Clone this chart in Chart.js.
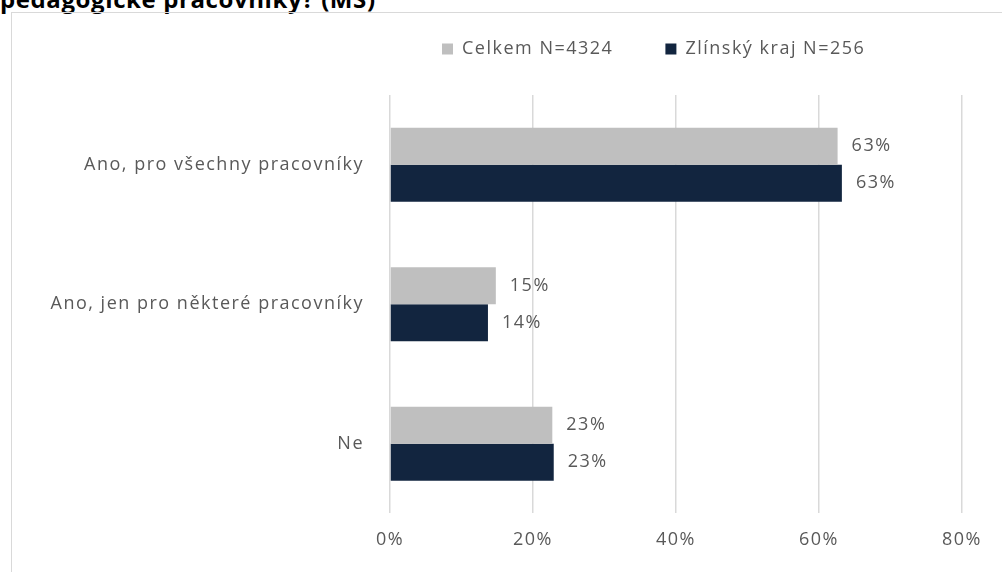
<!DOCTYPE html>
<html><head><meta charset="utf-8">
<script src="https://cdn.jsdelivr.net/npm/chart.js@4"></script>
<style>
html,body{margin:0;padding:0;background:#fff;width:1002px;height:572px;overflow:hidden;position:relative;}
#title{position:absolute;left:0;top:-13px;font:bold 24px/24px "Open Sans",sans-serif;letter-spacing:0.6px;color:#000;white-space:nowrap;}
#frame{position:absolute;left:11px;top:12px;width:1000px;height:600px;border-left:1px solid #d9d9d9;border-top:1px solid #d9d9d9;}
#wrap{position:absolute;left:0;top:0;width:1002px;height:572px;}
</style></head>
<body>
<div id="title">pedagogické pracovníky? (MŠ)</div>
<div id="frame"></div>
<div id="wrap"><canvas id="c" width="1002" height="572"></canvas></div>
<script>
const categories = ["Ano, pro všechny pracovníky", "Ano, jen pro některé pracovníky", "Ne"];
const seriesNames = ["Celkem N=4324", "Zlínský kraj N=256"];
const celkem = [62.6, 14.8, 22.7];
const zlinsky = [63.2, 13.7, 22.9];
const xTicks = [0, 20, 40, 60, 80];
const colors = ["#bfbfbf", "#12253f"];
const txt = "#595959";
const FONT = "'Open Sans', sans-serif";
const FS = 18;
const LS = '1.5px';

const spacingPlugin = {
  id: 'spacing',
  beforeUpdate(chart) { chart.ctx.letterSpacing = LS; },
  beforeLayout(chart) { chart.ctx.letterSpacing = LS; },
  beforeDraw(chart) { chart.ctx.letterSpacing = LS; }
};

const labelPlugin = {
  id: 'vlabels',
  afterDatasetsDraw(chart) {
    const ctx = chart.ctx;
    ctx.save();
    ctx.letterSpacing = LS;
    ctx.font = FS + "px " + FONT;
    ctx.fillStyle = txt;
    ctx.textAlign = 'left';
    ctx.textBaseline = 'middle';
    chart.data.datasets.forEach((ds, i) => {
      chart.getDatasetMeta(i).data.forEach((el, j) => {
        ctx.fillText(Math.round(ds.data[j]) + '%', el.x + 14, el.y);
      });
    });
    ctx.restore();
  }
};

new Chart(document.getElementById('c'), {
  type: 'bar',
  data: {
    labels: categories,
    datasets: [
      {label: seriesNames[0], data: celkem, backgroundColor: colors[0]},
      {label: seriesNames[1], data: zlinsky, backgroundColor: colors[1]}
    ]
  },
  options: {
    indexAxis: 'y',
    responsive: false,
    animation: false,
    devicePixelRatio: 1,
    layout: {padding: {top: -12, right: 40, left: 0, bottom: 5}},
    datasets: {bar: {categoryPercentage: 0.53, barPercentage: 1.0}},
    plugins: {
      legend: {
        position: 'top',
        align: 'start',
        fullSize: false,
        labels: {boxWidth: 11, boxHeight: 11, color: txt, font: {family: FONT, size: FS}, padding: 52},
      },
      subtitle: {display: true, text: '', weight: 500, font: {size: 1, lineHeight: 1}, padding: {top: 26, bottom: 0}},
      tooltip: {enabled: false}
    },
    scales: {
      x: {
        min: 0, max: 80,
        afterBuildTicks(axis) { axis.ticks = xTicks.map(v => ({value: v})); },
        ticks: {callback: v => v + '%', color: txt, font: {family: FONT, size: FS}, padding: 16},
        grid: {color: '#d9d9d9', drawTicks: false, lineWidth: 1.5},
        border: {display: false}
      },
      y: {
        afterFit(axis) { axis.width = 390; },
        ticks: {color: txt, font: {family: FONT, size: FS}, padding: 18},
        grid: {display: false},
        border: {display: false}
      }
    }
  },
  plugins: [spacingPlugin, labelPlugin]
});
</script>
</body></html>
